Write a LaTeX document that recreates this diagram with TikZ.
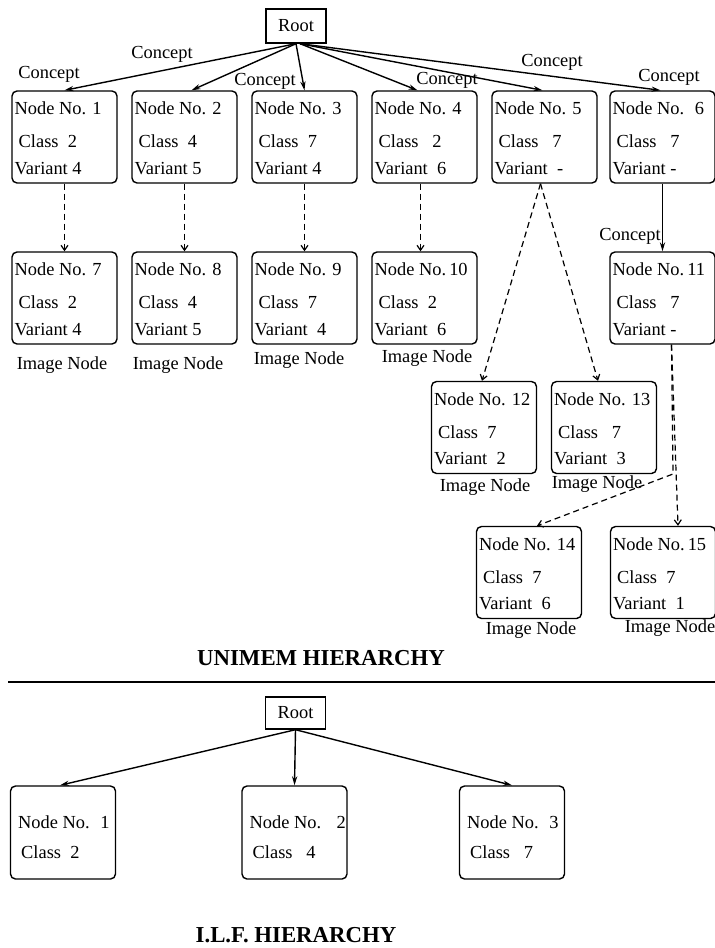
\documentclass[tikz,border=0pt]{standalone}
\usepackage{fontspec}
\setmainfont{Liberation Serif}
\usetikzlibrary{arrows.meta,calc}

\tikzset{
  membox/.style={draw, rounded corners=2.5pt, line width=0.7pt,
    minimum width=52.5pt, minimum height=46pt, inner sep=0pt},
  rootbox/.style={draw, line width=0.7pt, minimum width=30pt,
    minimum height=17pt, inner sep=0pt, font=\fontsize{9.2}{11}\selectfont},
  txt/.style={anchor=west, inner sep=0pt, font=\fontsize{9.2}{11}\selectfont},
  lbl/.style={inner sep=0pt, font=\fontsize{9.2}{11}\selectfont},
  heading/.style={inner sep=0pt, font=\fontsize{11.4}{13}\selectfont\bfseries},
  link/.style={line width=0.7pt, -{Stealth[length=4.5pt,width=2.6pt]}},
  imglink/.style={line width=0.6pt, dash pattern=on 3pt off 2pt,
    -{Straight Barb[length=2.5pt,width=3.5pt]}},
}

% box of the UNIMEM tree: name, x, y, three text lines
\newcommand\memnode[6]{%
  \node[membox] (#1) at (#2,#3) {};
  \node[txt] (#1a) at ($(#1.north west)+(3,18)$) {#4};
  \node[txt] (#1b) at ($(#1.north west)+(7,51)$) {#5};
  \node[txt] (#1c) at ($(#1.north west)+(3,78)$) {#6};
}
% box of the I.L.F. tree: name, x, y, two text lines
\newcommand\ilfnode[5]{%
  \node[membox, minimum height=46.5pt] (#1) at (#2,#3) {};
  \node[txt] (#1a) at ($(#1.north west)+(8,37)$) {#4};
  \node[txt] (#1b) at ($(#1.north west)+(11,67)$) {#5};
}

\begin{document}
\begin{tikzpicture}[x=0.5pt, y=-0.5pt]
\useasboundingbox (0,0) rectangle (715,948);

% ---------------- UNIMEM hierarchy ----------------
\node[rootbox, minimum height=17pt] (root) at (296,26) {Root};

\memnode{n1}{64.5}{137}{Node No. 1}{Class~ 2}{Variant 4}
\memnode{n2}{184.5}{137}{Node No. 2}{Class~ 4}{Variant 5}
\memnode{n3}{304.5}{137}{Node No. 3}{Class~ 7}{Variant 4}
\memnode{n4}{424.5}{137}{Node No. 4}{Class~~ 2}{Variant~ 6}
\memnode{n5}{544.5}{137}{Node No. 5}{Class~~ 7}{Variant~ -}
\memnode{n6}{662.5}{137}{Node No.~ 6}{Class~~ 7}{Variant -}

\memnode{n7}{64.5}{298}{Node No. 7}{Class~ 2}{Variant 4}
\memnode{n8}{184.5}{298}{Node No. 8}{Class~ 4}{Variant 5}
\memnode{n9}{304.5}{298}{Node No. 9}{Class~ 7}{Variant~ 4}
\memnode{n10}{424.5}{298}{Node No.\,10}{Class~ 2}{Variant~ 6}
\memnode{n11}{662.5}{298}{Node No.\,11}{Class~~ 7}{Variant -}

\memnode{n12}{484}{427.5}{Node No. 12}{Class~ 7}{Variant~ 2}
\memnode{n13}{604}{427.5}{Node No. 13}{Class~~ 7}{Variant~ 3}
\memnode{n14}{529}{572.5}{Node No. 14}{Class~ 7}{Variant~ 6}
\memnode{n15}{663}{572.5}{Node No.\,15}{Class~ 7}{Variant~ 1}

% concept links from the root
\draw[link] (root.south) -- (n1.north);
\draw[link] (root.south) -- ($(n2.north)+(7,0)$);
\draw[link] (root.south) -- (n3.north);
\draw[link] ($(root.south)+(4,0)$) -- ($(n4.north)+(-7,0)$);
\draw[link] ($(root.south)+(4,0)$) -- ($(n5.north)+(-2,0)$);
\draw[link] ($(root.south)+(4,0)$) -- ($(n6.north)+(-2,0)$);
\draw[link] (n6.south) -- (n11.north);

\node[lbl] (c1) at (49,74) {Concept};
\node[lbl] (c2) at (162,54) {Concept};
\node[lbl] (c3) at (265,81) {Concept};
\node[lbl] (c4) at (447,80) {Concept};
\node[lbl] (c5) at (552,62) {Concept};
\node[lbl] (c6) at (669,77) {Concept};
\node[lbl] (c7) at (630,236) {Concept};

% image links
\draw[imglink] (n1.south) -- (n7.north);
\draw[imglink] (n2.south) -- (n8.north);
\draw[imglink] (n3.south) -- (n9.north);
\draw[imglink] ($(n4.south)+(-4,0)$) -- ($(n10.north)+(-4,0)$);
\draw[imglink] ($(n5.south)+(-4,0)$) -- ($(n12.north)+(-2,0)$);
\draw[imglink] ($(n5.south)+(-4,0)$) -- ($(n13.north)+(-6,0)$);
\coordinate (bend) at (673,474);
\draw[imglink] ($(n11.south)+(9,0)$) -- (bend) -- ($(n14.north)+(8,0)$);
\draw[imglink] ($(n11.south)+(9,0)$) -- ($(n15.north)+(15,0)$);

\node[lbl] (i7) at (62,365) {Image Node};
\node[lbl] (i8) at (178,365) {Image Node};
\node[lbl] (i9) at (299,360) {Image Node};
\node[lbl] (i10) at (427,358) {Image Node};
\node[lbl] (i12) at (485,487) {Image Node};
\node[lbl] (i13) at (597,484) {Image Node};
\node[lbl] (i14) at (531,630) {Image Node};
\node[lbl] (i15) at (670,628) {Image Node};

\node[heading] (unimem) at (321,658) {UNIMEM HIERARCHY};

% separator
\coordinate (sepL) at (8,682);
\coordinate (sepR) at (715,682);
\draw[line width=0.8pt] (sepL) -- (sepR);

% ---------------- I.L.F. hierarchy ----------------
\node[rootbox, minimum height=16pt] (root2) at (295.5,713) {Root};

\ilfnode{b1}{63}{832.5}{Node No.~ 1}{Class~ 2}
\ilfnode{b2}{294.5}{832.5}{Node No.~~ 2}{Class~~ 4}
\ilfnode{b3}{512}{832.5}{Node No.~ 3}{Class~~ 7}

\draw[link] (root2.south) -- ($(b1.north)+(-3,0)$);
\draw[link] (root2.south) -- (b2.north);
\draw[link] (root2.south) -- (b3.north);

\node[heading] (ilf) at (296,935) {I.L.F. HIERARCHY};
\end{tikzpicture}
\end{document}
